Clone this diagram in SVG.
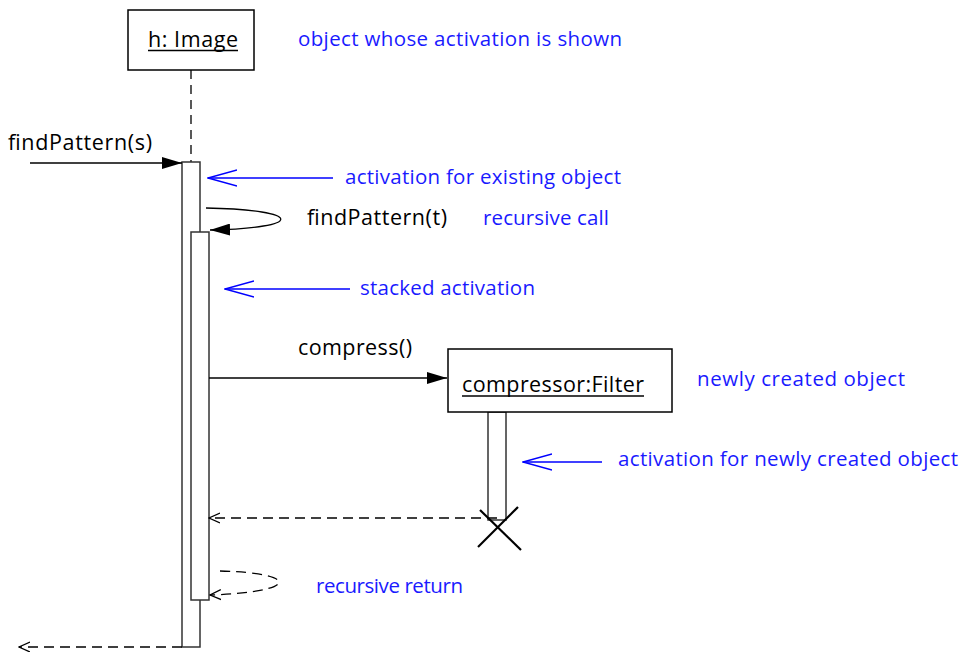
<svg xmlns="http://www.w3.org/2000/svg" width="966" height="652" viewBox="0 0 966 652">
<style>
.box{fill:#fff;stroke:#000;stroke-width:1.5}
.act{fill:#fff;stroke:#333;stroke-width:1.5}
.ln{fill:none;stroke:#000;stroke-width:1.3}
.x{fill:none;stroke:#000;stroke-width:2.2}
.dash{fill:none;stroke:#000;stroke-width:1.3;stroke-dasharray:10 6}
.life{fill:none;stroke:#000;stroke-width:1.3;stroke-dasharray:9 6}
.blue{fill:none;stroke:#0000ff;stroke-width:1.3}
.t{font-family:"Open Sans","Liberation Sans",sans-serif;font-size:21.5px;fill:#000}
.n{font-family:"Open Sans","Liberation Sans",sans-serif;font-size:20.5px;fill:#1a1aff}
</style>
<defs>
<marker id="fill" viewBox="0 0 20 12" refX="20" refY="6" markerWidth="20" markerHeight="12" markerUnits="userSpaceOnUse" orient="auto">
<path d="M0,0 L20,6 L0,12 Z" fill="#000"/>
</marker>
<marker id="open" viewBox="0 0 12 12" refX="11" refY="6" markerWidth="12" markerHeight="12" markerUnits="userSpaceOnUse" orient="auto">
<path d="M0,1 L11,6 L0,11" fill="none" stroke="#000" stroke-width="1.3"/>
</marker>
<marker id="blueopen" viewBox="0 0 30 18" refX="29" refY="9" markerWidth="30" markerHeight="18" markerUnits="userSpaceOnUse" orient="auto">
<path d="M0,1 L29,9 L0,17" fill="none" stroke="#0000ff" stroke-width="1.3"/>
</marker>
</defs>

<g id="image-object">
<line class="life" x1="191" y1="70" x2="191" y2="162"/>
<rect class="box" x="128" y="10" width="126" height="60"/>
<text class="t" x="148" y="47" textLength="90">h: Image</text>
<line x1="148" y1="50.5" x2="238" y2="50.5" stroke="#000" stroke-width="1.5"/>
</g>

<g id="activation-outer">
<rect class="act" x="182" y="162" width="18" height="485"/>
</g>
<g id="activation-inner">
<rect class="act" x="191" y="232" width="18" height="368"/>
</g>

<g id="filter-object">
<rect class="act" x="488" y="412" width="18" height="108"/>
<rect class="box" x="448" y="349" width="224" height="63"/>
<text class="t" x="462" y="392" textLength="182">compressor:Filter</text>
<line x1="462" y1="396" x2="644" y2="396" stroke="#000" stroke-width="1.5"/>
<line class="x" x1="480" y1="510" x2="521" y2="550"/>
<line class="x" x1="518" y1="507" x2="478" y2="547"/>
</g>

<g id="connectors">
<line class="ln" x1="30" y1="163" x2="182" y2="163" marker-end="url(#fill)"/>
<path class="ln" d="M206,208 C305,210 305,228 210,230" marker-end="url(#fill)"/>
<line class="ln" x1="209" y1="378" x2="447" y2="378" marker-end="url(#fill)"/>
<line class="dash" x1="497" y1="518" x2="209" y2="518" marker-end="url(#open)"/>
<path class="dash" d="M220,571 C300,573 300,592 210,595" marker-end="url(#open)"/>
<line class="dash" x1="182" y1="647" x2="19" y2="647" marker-end="url(#open)"/>
<line class="blue" x1="333" y1="178" x2="208" y2="178" marker-end="url(#blueopen)"/>
<line class="blue" x1="350" y1="289" x2="225" y2="289" marker-end="url(#blueopen)"/>
<line class="blue" x1="602" y1="462" x2="523" y2="462" marker-end="url(#blueopen)"/>
</g>

<g id="labels">
<text class="t" x="8" y="150" textLength="144">findPattern(s)</text>
<text class="t" x="307" y="225" textLength="140">findPattern(t)</text>
<text class="t" x="298" y="355" textLength="114">compress()</text>
<text class="n" x="298" y="46" textLength="324">object whose activation is shown</text>
<text class="n" x="345" y="184" textLength="276">activation for existing object</text>
<text class="n" x="483" y="225" textLength="126">recursive call</text>
<text class="n" x="360" y="295" textLength="175">stacked activation</text>
<text class="n" x="697" y="386" textLength="208">newly created object</text>
<text class="n" x="618" y="466" textLength="340">activation for newly created object</text>
<text class="n" x="316" y="593" textLength="147">recursive return</text>
</g>
</svg>
